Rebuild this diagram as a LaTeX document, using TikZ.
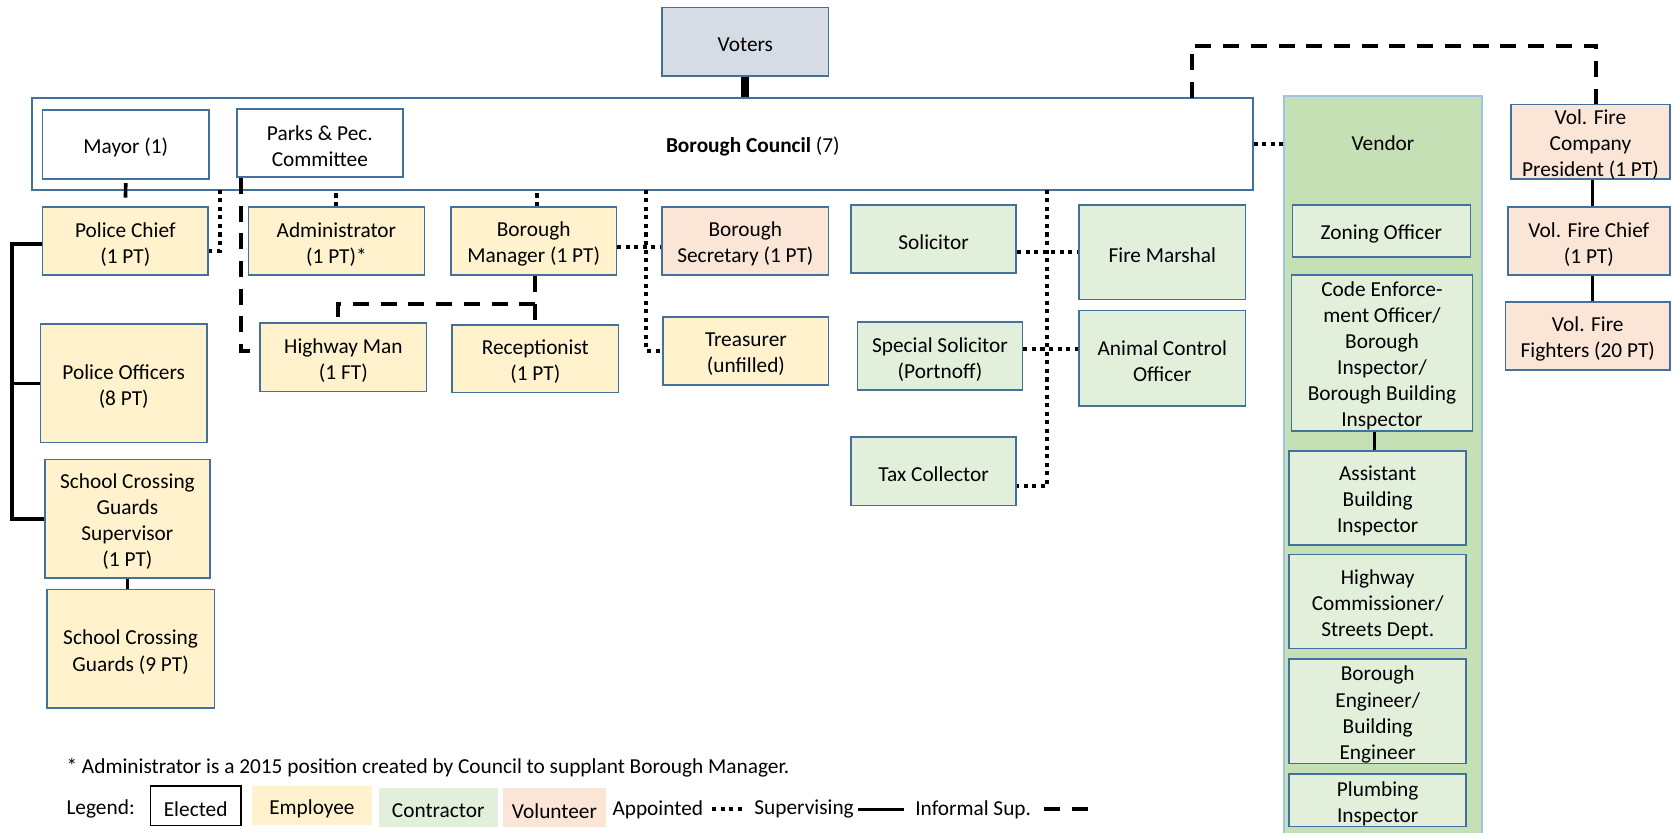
\documentclass[tikz,border=0pt]{standalone}
\usepackage{fontspec}
\setmainfont{Carlito}
\usetikzlibrary{calc}
\definecolor{bdr}{HTML}{41719C}
\definecolor{voterc}{HTML}{D6DCE5}
\definecolor{empc}{HTML}{FFF2CC}
\definecolor{conc}{HTML}{E2EFDA}
\definecolor{volc}{HTML}{FBE5D6}
\definecolor{vendc}{HTML}{C5E0B4}
\definecolor{vendb}{HTML}{9DC3E6}
% box from corners (x1,y1)-(x2,y2), text set slightly low as in the reference
\newcommand\bx[7]{%
 \pgfmathsetmacro\bxcx{(#3+#5)/2}%
 \pgfmathsetmacro\bxcy{(#4+#6)/2}%
 \pgfmathsetmacro\bxw{(#5-#3)/2}%
 \pgfmathsetmacro\bxh{(#6-#4)/2}%
 \node[#2, minimum width=\bxw pt, minimum height=\bxh pt] (#1) at (\bxcx,\bxcy) {};
 \node[txt, align=center] (#1-t) at ([yshift=-1.5pt]#1.center) {#7};}
\newcommand\bxe[6]{%
 \pgfmathsetmacro\bxcx{(#3+#5)/2}%
 \pgfmathsetmacro\bxcy{(#4+#6)/2}%
 \pgfmathsetmacro\bxw{(#5-#3)/2}%
 \pgfmathsetmacro\bxh{(#6-#4)/2}%
 \node[#2, minimum width=\bxw pt, minimum height=\bxh pt] (#1) at (\bxcx,\bxcy) {};}
\tikzset{
 txt/.style={font=\fontsize{10}{12.2}\selectfont, inner sep=0pt},
 box/.style={txt, draw=bdr, line width=0.75pt, align=center},
 elect/.style={box, fill=white},
 emp/.style={box, fill=empc},
 con/.style={box, fill=conc},
 vol/.style={box, fill=volc},
 vot/.style={box, fill=voterc},
 vend/.style={box, fill=vendc, draw=vendb, line width=1pt},
 legel/.style={txt, draw=black, line width=0.6pt, fill=white},
 legbox/.style={txt},
 appline/.style={line width=1.9pt, dash pattern=on 1.9pt off 2.1pt},
 supline/.style={line width=1.7pt},
 infline/.style={line width=1.9pt, dash pattern=on 7.5pt off 5.5pt},
 vline/.style={line width=3.8pt},
}
\begin{document}
\begin{tikzpicture}[x=0.5pt, y=-0.5pt]
\useasboundingbox (0,0) rectangle (1568,781);
% top
\bx{voters}{vot}{621}{7}{777}{71}{Voters}
\bxe{council}{elect}{30}{92}{1175}{178}
\node[txt] (counciltxt) at (706,137) {\textbf{Borough Council} (7)};
\bx{mayor}{elect}{40}{103}{196}{168}{Mayor (1)}
\bx{parks}{elect}{222}{102}{378}{166}{Parks \& Pec.\\Committee}
% row 1
\bx{pchief}{emp}{40}{194}{195}{258}{Police Chief\\(1 PT)}
\bx{admin}{emp}{233}{194}{398}{258}{Administrator\\(1 PT)*}
\bx{bm}{emp}{423}{194}{578}{258}{Borough\\Manager (1 PT)}
\bx{sec}{vol}{621}{194}{777}{258}{Borough\\Secretary (1 PT)}
\bx{sol}{con}{798}{192}{953}{256}{Solicitor}
\bx{fm}{con}{1012}{192}{1168}{281}{Fire Marshal}
% row 2
\bx{hwy}{emp}{244}{303}{400}{367}{Highway Man\\(1 FT)}
\bx{recep}{emp}{424}{305}{580}{368}{Receptionist\\(1 PT)}
\bx{treas}{emp}{622}{297}{777}{361}{Treasurer\\(unfilled)}
\bx{ss}{con}{804}{302}{959}{366}{Special Solicitor\\(Portnoff)}
\bx{aco}{con}{1012}{291}{1168}{381}{Animal Control\\Officer}
\bx{tax}{con}{798}{410}{953}{474}{Tax Collector}
% police column
\bx{polo}{emp}{38}{304}{194}{415}{Police Officers\\(8 PT)}
\bx{scgs}{emp}{42}{431}{197}{542}{School Crossing\\Guards\\Supervisor\\(1 PT)}
\bx{guards}{emp}{44}{553}{201}{664}{School Crossing\\Guards (9 PT)}
% vendor column
\bxe{vendor}{vend}{1204}{90}{1390}{790}
\node[txt] (vendtxt) at (1297,134) {Vendor};
\bx{zoning}{con}{1212}{192}{1379}{241}{Zoning Officer}
\bx{code}{con}{1211}{258}{1381}{404}{Code Enforce-\\ment Officer/\\Borough\\Inspector/\\Borough Building\\Inspector}
\bx{asst}{con}{1209}{423}{1375}{511}{Assistant\\Building\\Inspector}
\bx{hwc}{con}{1209}{520}{1375}{608}{Highway\\Commissioner/\\Streets Dept.}
\bx{eng}{con}{1209}{618}{1375}{716}{Borough\\Engineer/\\Building\\Engineer}
\bx{plumb}{con}{1209}{726}{1375}{775}{Plumbing\\Inspector}
% fire company
\bx{pres}{vol}{1417}{98}{1566}{168}{Vol. Fire\\Company\\President (1 PT)}
\bx{chief}{vol}{1414}{194}{1566}{258}{Vol. Fire Chief\\(1 PT)}
\bx{ff}{vol}{1412}{283}{1566}{347}{Vol. Fire\\Fighters (20 PT)}
% connectors
\draw[vline] (voters.south) -- (voters.south |- council.north);
\draw[supline, shorten <=1.5pt, shorten >=4pt] (mayor.south) -- (pchief.north);
\coordinate (pcup) at (206,178);
\draw[appline] (pcup) |- ([yshift=-4.5pt]pchief.east);
\draw[appline] (admin.north) -- (admin.north |- council.south);
\draw[appline] ([xshift=1.5pt]bm.north) -- ([xshift=1.5pt]bm.north |- council.south);
\draw[appline] ([yshift=-3pt]bm.east) -- ([yshift=-3pt]bm.east -| sec.west);
\coordinate (trup) at (606,178);
\draw[appline] (trup) |- (treas.west);
\draw[appline] (sol.east |- fm.west) -- (fm.west);
\draw[appline] ([yshift=3.5pt]ss.east) -- ([yshift=3.5pt]ss.east -| aco.west);
\coordinate (txup) at (982,178);
\draw[appline] (txup) |- ([yshift=-7pt]tax.east);
\draw[appline] (council.east) -- (council.east -| vendor.west);
\coordinate (dsup) at (1118,92);
\coordinate (dscor) at (1118,43);
\draw[infline] (dsup) -- (dscor) -| ([xshift=2.6pt]pres.north);
\draw[supline] ([xshift=1pt]pres.south) -- ([xshift=1pt]pres.south |- chief.north);
\draw[supline] ([xshift=1pt]pres.south |- chief.south) -- ([xshift=1pt]pres.south |- ff.north);
\draw[infline] ([xshift=2.5pt]parks.south west) |- ([yshift=2.75pt]hwy.west);
\draw[infline] ([xshift=0.5pt]bm.south) -- ([xshift=0.5pt]bm.south |- recep.north);
\draw[infline] ([yshift=9.5pt]recep.north) -| ([xshift=-2.5pt]hwy.north);
\draw[supline] ([yshift=-1.5pt]pchief.west) -- ++(-28,0) |- (scgs.west);
\draw[supline] (polo.west) -- ++(-26,0);
\draw[supline] (scgs.south) -- (scgs.south |- guards.north);
\draw[supline] ([xshift=-3.5pt]code.south) -- ([xshift=-3.5pt]code.south |- asst.north);
% footnote and legend
\node[txt, anchor=west] (note) at (62,720) {* Administrator is a 2015 position created by Council to supplant Borough Manager.};
\node[txt, anchor=west] (legend) at (62,759) {Legend:};
\bx{lel}{legel}{141}{737}{226}{774}{Elected}
\bx{lemp}{legbox, fill=empc}{236}{737}{349}{774}{Employee}
\bx{lcon}{legbox, fill=conc}{355}{739}{467}{776}{Contractor}
\bx{lvol}{legbox, fill=volc}{472}{739}{568}{776}{Volunteer}
\node[txt, anchor=west] (lapp) at (574,759) {Appointed};
\coordinate (la1) at (668,759); \coordinate (la2) at (698,759);
\draw[appline] (la1) -- (la2);
\node[txt, anchor=west] (lsup) at (707,759) {Supervising};
\coordinate (ls1) at (805,759); \coordinate (ls2) at (848,759);
\draw[supline] (ls1) -- (ls2);
\node[txt, anchor=west] (linf) at (858,759) {Informal Sup.};
\coordinate (li1) at (979,759); \coordinate (li2) at (1024,759);
\draw[infline] (li1) -- (li2);
\end{tikzpicture}
\end{document}
